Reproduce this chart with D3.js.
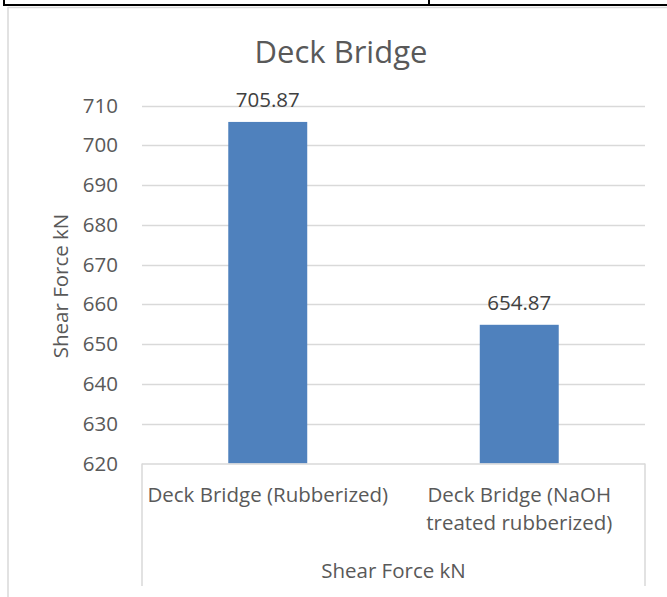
<!DOCTYPE html>
<html>
<head>
<meta charset="utf-8">
<script src="https://cdn.jsdelivr.net/npm/d3@7"></script>
<style>
  html, body { margin: 0; padding: 0; background: #fff; }
  svg { display: block; }
  text { font-family: "Open Sans", "Noto Sans", sans-serif; }
</style>
</head>
<body>
<svg id="chart" width="667" height="597"></svg>
<script>
// Shear force results for the two deck bridge variants
const categories = [
  ["Deck Bridge (Rubberized)"],
  ["Deck Bridge (NaOH", "treated rubberized)"]
];
const shearForce = [705.87, 654.87];
const yTicks = [620, 630, 640, 650, 660, 670, 680, 690, 700, 710];
const chartTitle = "Deck Bridge";
const yAxisTitle = "Shear Force kN";
const groupTitle = "Shear Force kN";

const svg = d3.select("#chart");
const textColor = "#595959";
const gridColor = "#d9d9d9";
const barColor = "#4f81bd";
const labelSize = "20.5px";

// surrounding table rules
svg.append("line").attr("x1", 3).attr("x2", 667).attr("y1", 5).attr("y2", 5)
  .attr("stroke", "#000").attr("stroke-width", 2);
svg.append("line").attr("x1", 4).attr("x2", 4).attr("y1", 0).attr("y2", 6)
  .attr("stroke", "#000").attr("stroke-width", 2);
svg.append("line").attr("x1", 429).attr("x2", 429).attr("y1", 0).attr("y2", 6)
  .attr("stroke", "#000").attr("stroke-width", 2);

// chart frame
svg.append("line").attr("x1", 8).attr("x2", 667).attr("y1", 7.5).attr("y2", 7.5)
  .attr("stroke", gridColor).attr("stroke-width", 1.5);
svg.append("line").attr("x1", 8).attr("x2", 8).attr("y1", 7).attr("y2", 597)
  .attr("stroke", gridColor).attr("stroke-width", 1.5);

const plot = { left: 142, right: 645, top: 105.5, bottom: 463.5 };

const x = d3.scaleBand()
  .domain(d3.range(categories.length))
  .range([plot.left, plot.right])
  .paddingInner(0.686)
  .paddingOuter(0.343);

const y = d3.scaleLinear()
  .domain([620, 710])
  .range([plot.bottom, plot.top]);

// horizontal gridlines
svg.append("g")
  .selectAll("line")
  .data(yTicks.filter(d => d !== 620))
  .join("line")
  .attr("x1", plot.left).attr("x2", plot.right)
  .attr("y1", d => Math.round(y(d)) + 0.5).attr("y2", d => Math.round(y(d)) + 0.5)
  .attr("stroke", gridColor).attr("stroke-width", 1.5);

// y axis tick labels
const yAxis = d3.axisLeft(y).tickValues(yTicks).tickSize(0).tickPadding(0);
const yG = svg.append("g").attr("transform", `translate(118,0)`).call(yAxis);
yG.select(".domain").remove();
yG.selectAll("text")
  .attr("fill", textColor)
  .style("font-size", labelSize)
  .style("font-family", "'Open Sans', sans-serif");

// bars
svg.append("g")
  .selectAll("rect")
  .data(shearForce)
  .join("rect")
  .attr("x", (d, i) => x(i))
  .attr("width", x.bandwidth())
  .attr("y", d => y(d))
  .attr("height", d => plot.bottom - y(d))
  .attr("fill", barColor);

// value labels
svg.append("g")
  .selectAll("text")
  .data(shearForce)
  .join("text")
  .attr("x", (d, i) => x(i) + x.bandwidth() / 2)
  .attr("y", d => y(d) - 15)
  .attr("text-anchor", "middle")
  .attr("fill", "#404040")
  .style("font-size", labelSize)
  .text(d => d.toFixed(2));

// category axis box
const boxBottom = 586;
svg.append("line").attr("x1", plot.left).attr("x2", plot.right)
  .attr("y1", plot.bottom + 0.5).attr("y2", plot.bottom + 0.5)
  .attr("stroke", gridColor).attr("stroke-width", 1.5);
[plot.left, plot.right].forEach(px => {
  svg.append("line").attr("x1", px).attr("x2", px)
    .attr("y1", plot.bottom).attr("y2", boxBottom)
    .attr("stroke", gridColor).attr("stroke-width", 1.5);
});

// category labels
const catG = svg.append("g");
categories.forEach((lines, i) => {
  const t = catG.append("text")
    .attr("text-anchor", "middle")
    .attr("fill", textColor)
    .style("font-size", labelSize);
  lines.forEach((ln, j) => {
    t.append("tspan")
      .attr("x", x(i) + x.bandwidth() / 2)
      .attr("y", 502 + j * 28)
      .text(ln);
  });
});

// group title under categories
svg.append("text")
  .attr("x", (plot.left + plot.right) / 2)
  .attr("y", 578)
  .attr("text-anchor", "middle")
  .attr("fill", textColor)
  .style("font-size", labelSize)
  .text(groupTitle);

// y axis title
svg.append("text")
  .attr("transform", `translate(68,286) rotate(-90)`)
  .attr("text-anchor", "middle")
  .attr("fill", textColor)
  .style("font-size", labelSize)
  .text(yAxisTitle);

// chart title
svg.append("text")
  .attr("x", 341)
  .attr("y", 63)
  .attr("text-anchor", "middle")
  .attr("fill", textColor)
  .style("font-size", "31px")
  .text(chartTitle);
</script>
</body>
</html>
